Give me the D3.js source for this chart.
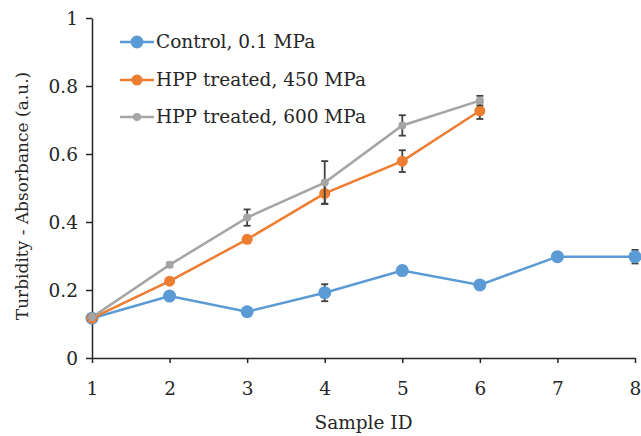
<!DOCTYPE html>
<html>
<head>
<meta charset="utf-8">
<script src="https://cdn.jsdelivr.net/npm/d3@7"></script>
<style>
  body { margin: 0; background: #fff; }
</style>
</head>
<body>
<div id="container"></div>
<script>
const width = 641;
const height = 436;
const margin = {top: 18, right: 6, bottom: 78, left: 92};
const serif = "'DejaVu Serif', 'Liberation Serif', serif";
const fontSize = "18.5px";

// ------------------ data ------------------
const sampleIds = [1, 2, 3, 4, 5, 6, 7, 8];
const yTicks = [0, 0.2, 0.4, 0.6, 0.8, 1];
const seriesNames = ["Control, 0.1 MPa", "HPP treated, 450 MPa", "HPP treated, 600 MPa"];
const controlValues = [0.117, 0.182, 0.136, 0.192, 0.257, 0.215, 0.298, 0.298];
const controlErrors = [0.005, 0.008, 0.008, 0.025, 0.012, 0.006, 0.006, 0.02];
const hpp450Values = [0.117, 0.226, 0.349, 0.484, 0.579, 0.727];
const hpp450Errors = [0.005, 0.008, 0.008, 0.03, 0.032, 0.024];
const hpp600Values = [0.12, 0.274, 0.413, 0.516, 0.684, 0.757];
const hpp600Errors = [0.005, 0.006, 0.024, 0.063, 0.03, 0.014];

const colors = ["#5b9bd5", "#ed7d31", "#a5a5a5"];
const radii = [6.5, 5.5, 4];

const series = [controlValues, hpp450Values, hpp600Values].map(function(vals, i) {
  const errs = [controlErrors, hpp450Errors, hpp600Errors][i];
  return {
    name: seriesNames[i],
    color: colors[i],
    r: radii[i],
    values: vals.map(function(v, j) { return {id: sampleIds[j], v: v, e: errs[j]}; })
  };
});

// ------------------ svg ------------------
const svg = d3.select("#container").append("svg")
  .attr("width", width)
  .attr("height", height)
  .style("font-family", serif);

const x = d3.scaleLinear().domain([1, 8]).range([margin.left, width - margin.right]);
const y = d3.scaleLinear().domain([0, 1]).range([height - margin.bottom, margin.top]);

// ------------------ axes ------------------
const xAxis = svg.append("g")
  .attr("transform", "translate(0," + y(0) + ")")
  .call(d3.axisBottom(x).tickValues(sampleIds).tickFormat(d3.format("d")).tickSize(5).tickSizeOuter(0));

const yAxis = svg.append("g")
  .attr("transform", "translate(" + x(1) + ",0)")
  .call(d3.axisLeft(y).tickValues(yTicks).tickFormat(function(d) { return d === 0 || d === 1 ? d : d.toFixed(1); }).tickSize(6).tickSizeOuter(0));

[xAxis, yAxis].forEach(function(a) {
  a.attr("font-family", null);
  a.select(".domain").attr("stroke", "#262626").attr("stroke-width", 1.5);
  a.selectAll(".tick line").attr("stroke", "#262626").attr("stroke-width", 1.5);
  a.selectAll(".tick text")
    .style("font-family", serif)
    .style("font-size", fontSize)
    .attr("fill", "#262626");
});
xAxis.selectAll(".tick text").attr("dy", "0").attr("y", 37);
yAxis.selectAll(".tick text").attr("x", -14).attr("dy", "0.35em");

svg.append("text")
  .attr("x", (x(1) + x(8)) / 2)
  .attr("y", 429)
  .attr("text-anchor", "middle")
  .attr("fill", "#262626")
  .style("font-family", serif)
  .style("font-size", fontSize)
  .text("Sample ID");

svg.append("text")
  .attr("transform", "translate(28," + ((y(0) + y(1)) / 2 + 8) + ") rotate(-90)")
  .attr("text-anchor", "middle")
  .attr("fill", "#262626")
  .style("font-family", serif)
  .style("font-size", "17px")
  .text("Turbidity - Absorbance (a.u.)");

// ------------------ lines ------------------
const line = d3.line()
  .x(function(d) { return x(d.id); })
  .y(function(d) { return y(d.v); });

const groups = svg.selectAll("g.series")
  .data(series)
  .enter()
  .append("g")
  .attr("class", "series");

groups.append("path")
  .attr("fill", "none")
  .attr("stroke", function(d) { return d.color; })
  .attr("stroke-width", 2.5)
  .attr("d", function(d) { return line(d.values); });

// error bars
groups.each(function(s) {
  const g = d3.select(this);
  const eb = g.selectAll("g.err").data(s.values).enter().append("g")
    .attr("stroke", "#404040").attr("stroke-width", 1.8);
  eb.append("line")
    .attr("x1", function(d) { return x(d.id); }).attr("x2", function(d) { return x(d.id); })
    .attr("y1", function(d) { return y(d.v - d.e); }).attr("y2", function(d) { return y(d.v + d.e); });
  eb.append("line")
    .attr("x1", function(d) { return x(d.id) - 3.5; }).attr("x2", function(d) { return x(d.id) + 3.5; })
    .attr("y1", function(d) { return y(d.v + d.e); }).attr("y2", function(d) { return y(d.v + d.e); });
  eb.append("line")
    .attr("x1", function(d) { return x(d.id) - 3.5; }).attr("x2", function(d) { return x(d.id) + 3.5; })
    .attr("y1", function(d) { return y(d.v - d.e); }).attr("y2", function(d) { return y(d.v - d.e); });
});

groups.each(function(s) {
  d3.select(this).selectAll("circle").data(s.values).enter().append("circle")
    .attr("cx", function(d) { return x(d.id); })
    .attr("cy", function(d) { return y(d.v); })
    .attr("r", s.r)
    .attr("fill", s.color);
});

// ------------------ legend ------------------
const legend = svg.append("g").attr("transform", "translate(120,42)");
const rows = legend.selectAll("g").data(series).enter().append("g")
  .attr("transform", function(d, i) { return "translate(0," + [0, 38, 75][i] + ")"; });
rows.append("line")
  .attr("x1", 0).attr("x2", 34).attr("y1", 0).attr("y2", 0)
  .attr("stroke", function(d) { return d.color; })
  .attr("stroke-width", 2.5);
rows.append("circle")
  .attr("cx", 17).attr("cy", 0)
  .attr("r", function(d) { return d.r; })
  .attr("fill", function(d) { return d.color; });
rows.append("text")
  .attr("x", 36).attr("y", 0).attr("dy", "0.35em")
  .attr("fill", "#262626")
  .style("font-family", serif)
  .style("font-size", fontSize)
  .text(function(d) { return d.name; });
</script>
</body>
</html>
